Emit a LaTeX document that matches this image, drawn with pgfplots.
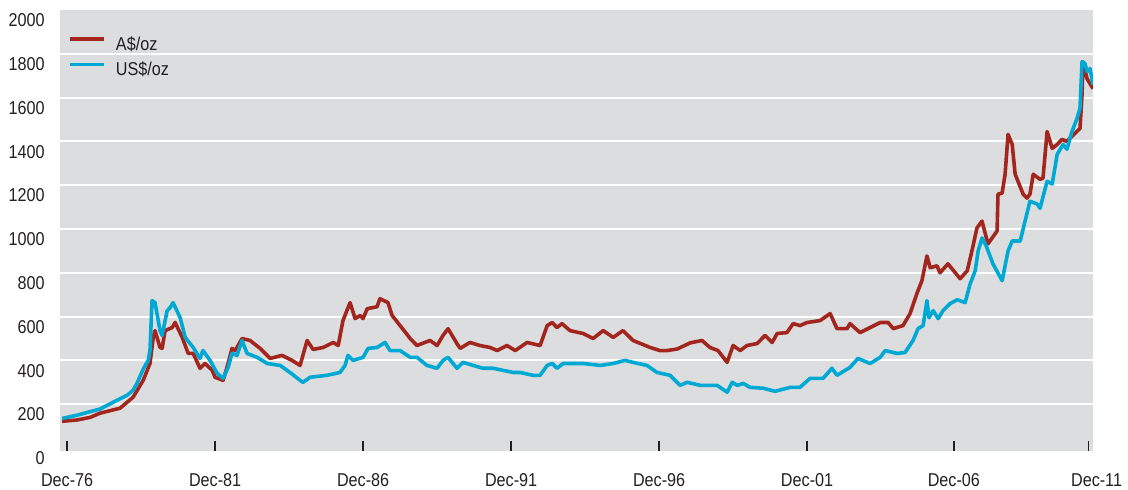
\documentclass[border=0pt]{standalone}
\usepackage{fontspec}
\setmainfont{Liberation Sans}[FakeStretch=0.87]
\usepackage{pgfplots}
\pgfplotsset{compat=1.18}
\usepackage{pgfplotstable}
\definecolor{audred}{RGB}{163,38,30}
\definecolor{usdblue}{RGB}{0,168,212}
\definecolor{bggray}{RGB}{220,221,223}
\definecolor{txt}{RGB}{35,31,32}
\newcommand{\lbl}{\fontsize{9.3pt}{11pt}\selectfont}

\pgfplotstableread{
x y
1976.75 122
1977.26 128
1977.70 140
1978.03 159
1978.71 182
1979.15 232
1979.49 309
1979.72 386
1979.83 505
1979.89 536
1980.06 459
1980.13 455
1980.23 536
1980.47 550
1980.57 573
1980.81 505
1981.01 432
1981.18 432
1981.41 364
1981.58 386
1981.82 355
1981.92 323
1982.19 309
1982.36 386
1982.49 455
1982.60 445
1982.83 500
1983.10 491
1983.44 455
1983.78 409
1984.18 423
1984.52 400
1984.79 377
1985.03 491
1985.23 450
1985.57 459
1985.91 482
1986.08 468
1986.24 582
1986.48 664
1986.65 591
1986.82 605
1986.92 591
1987.06 636
1987.39 645
1987.49 682
1987.76 664
1987.90 605
1988.17 559
1988.51 500
1988.74 468
1989.18 491
1989.42 468
1989.62 514
1989.79 545
1990.09 477
1990.20 455
1990.53 482
1990.87 468
1991.21 459
1991.45 445
1991.78 468
1992.06 445
1992.46 482
1992.90 468
1993.14 559
1993.31 573
1993.47 550
1993.64 568
1993.91 536
1994.35 523
1994.69 500
1995.03 536
1995.37 505
1995.70 536
1996.04 491
1996.62 459
1996.95 445
1997.19 445
1997.53 452
1997.97 480
1998.37 491
1998.64 459
1998.91 445
1999.22 391
1999.42 468
1999.66 445
1999.89 468
2000.23 477
2000.50 514
2000.74 482
2000.91 523
2001.24 527
2001.45 568
2001.68 559
2001.92 573
2002.36 582
2002.70 614
2002.93 545
2003.27 545
2003.37 568
2003.71 527
2004.05 550
2004.39 573
2004.66 573
2004.83 545
2005.16 559
2005.40 614
2005.64 709
2005.80 764
2005.97 877
2006.08 823
2006.31 832
2006.41 800
2006.68 841
2007.09 773
2007.33 809
2007.49 900
2007.66 1005
2007.83 1036
2008.03 932
2008.34 991
2008.37 1159
2008.51 1164
2008.61 1250
2008.71 1432
2008.85 1386
2008.95 1250
2009.22 1159
2009.35 1141
2009.45 1159
2009.56 1250
2009.79 1227
2009.89 1232
2010.03 1445
2010.20 1368
2010.37 1386
2010.53 1409
2010.70 1400
2010.80 1414
2011.14 1459
2011.21 1614
2011.24 1764
2011.38 1686
2011.58 1641
}\aud

\pgfplotstableread{
x y
1976.75 135
1977.26 150
1978.03 178
1978.61 218
1978.95 241
1979.15 264
1979.28 295
1979.49 360
1979.66 400
1979.72 445
1979.79 673
1979.89 664
1980.06 536
1980.13 514
1980.30 627
1980.40 641
1980.50 664
1980.74 595
1980.91 505
1981.18 459
1981.41 409
1981.51 445
1981.75 400
1981.99 341
1982.19 318
1982.36 368
1982.49 432
1982.66 423
1982.83 491
1983.00 432
1983.34 414
1983.68 386
1984.12 377
1984.45 345
1984.79 309
1984.89 300
1985.13 323
1985.70 332
1986.14 345
1986.31 377
1986.41 423
1986.58 400
1986.92 414
1987.09 455
1987.39 459
1987.66 482
1987.83 445
1988.17 445
1988.51 414
1988.74 414
1989.08 377
1989.42 364
1989.62 400
1989.79 414
1990.09 364
1990.30 391
1990.64 377
1990.97 364
1991.31 364
1991.99 345
1992.22 345
1992.66 332
1992.90 332
1993.14 377
1993.31 386
1993.47 364
1993.68 386
1994.35 386
1994.93 377
1995.37 386
1995.77 400
1996.04 391
1996.51 377
1996.85 345
1997.29 332
1997.63 286
1997.87 300
1998.31 286
1998.88 286
1999.22 255
1999.39 300
1999.56 286
1999.76 295
1999.99 277
2000.43 273
2000.84 259
2001.35 277
2001.68 277
2002.02 318
2002.46 318
2002.76 364
2002.93 332
2003.37 368
2003.64 409
2004.05 386
2004.39 414
2004.56 445
2004.96 432
2005.23 436
2005.50 491
2005.67 545
2005.84 559
2005.97 673
2006.04 595
2006.18 627
2006.35 591
2006.51 627
2006.75 659
2006.99 677
2007.26 664
2007.43 750
2007.60 809
2007.70 900
2007.83 959
2007.97 923
2008.20 841
2008.51 764
2008.71 900
2008.85 945
2009.12 945
2009.45 1127
2009.69 1114
2009.79 1095
2010.03 1218
2010.20 1205
2010.37 1341
2010.57 1386
2010.70 1364
2010.87 1445
2011.04 1505
2011.14 1550
2011.21 1764
2011.31 1755
2011.38 1718
2011.48 1732
2011.58 1659
}\usd

\begin{document}
\begin{tikzpicture}
\useasboundingbox (-30pt,-19.5pt) rectangle (534pt,225.5pt);
\begin{axis}[
  at={(0,0)}, anchor=south west,
  scale only axis, width=516.5pt, height=220.5pt,
  xmin=1976.68, xmax=2011.58,
  ymin=-13.6, ymax=2000,
  axis background/.style={fill=bggray},
  axis line style={draw=none},
  xtick={1976.92,1981.92,1986.92,1991.92,1996.92,2001.92,2006.88,2011.43},
  xticklabels={Dec-76,Dec-81,Dec-86,Dec-91,Dec-96,Dec-01,Dec-06,\hspace*{8pt}Dec-11},
  xtick align=inside, xtick pos=left,
  major tick length=5pt,
  xtick style={draw=txt, line width=0.7pt},
  ytick={0,200,...,2000},
  yticklabels={0,200,400,600,800,1000,1200,1400,1600,1800,2000},
  ytick style={draw=none},
  extra y ticks={200,400,...,1800},
  extra y tick labels={},
  extra y tick style={grid=major, major grid style={white,line width=1pt}, tick style={draw=none}},
  xticklabel style={font=\lbl, text=txt, anchor=north, inner sep=0pt, text height=6.7pt, yshift=-11pt},
  yticklabel style={font=\lbl, text=txt, anchor=east, inner sep=0pt, text height=6.7pt, text depth=0pt, xshift=-7.5pt, yshift=-5pt},
  legend style={at={(0,1)}, anchor=north west, xshift=4pt, yshift=-11pt, draw=none, fill=none, inner sep=0pt, font=\lbl, text=txt, row sep=0.5pt, column sep=3pt},
  legend image code/.code={\draw[#1,line width=1.8pt] (0pt,0.3em) -- (17pt,0.3em);},
  legend cell align=left,
]
\addplot[audred, line width=1.8pt, line join=round] table {\aud};
\addlegendentry{A\$/oz}
\addplot[usdblue, line width=1.8pt, line join=round] table {\usd};
\addlegendentry{US\$/oz}
\end{axis}
\end{tikzpicture}
\end{document}
